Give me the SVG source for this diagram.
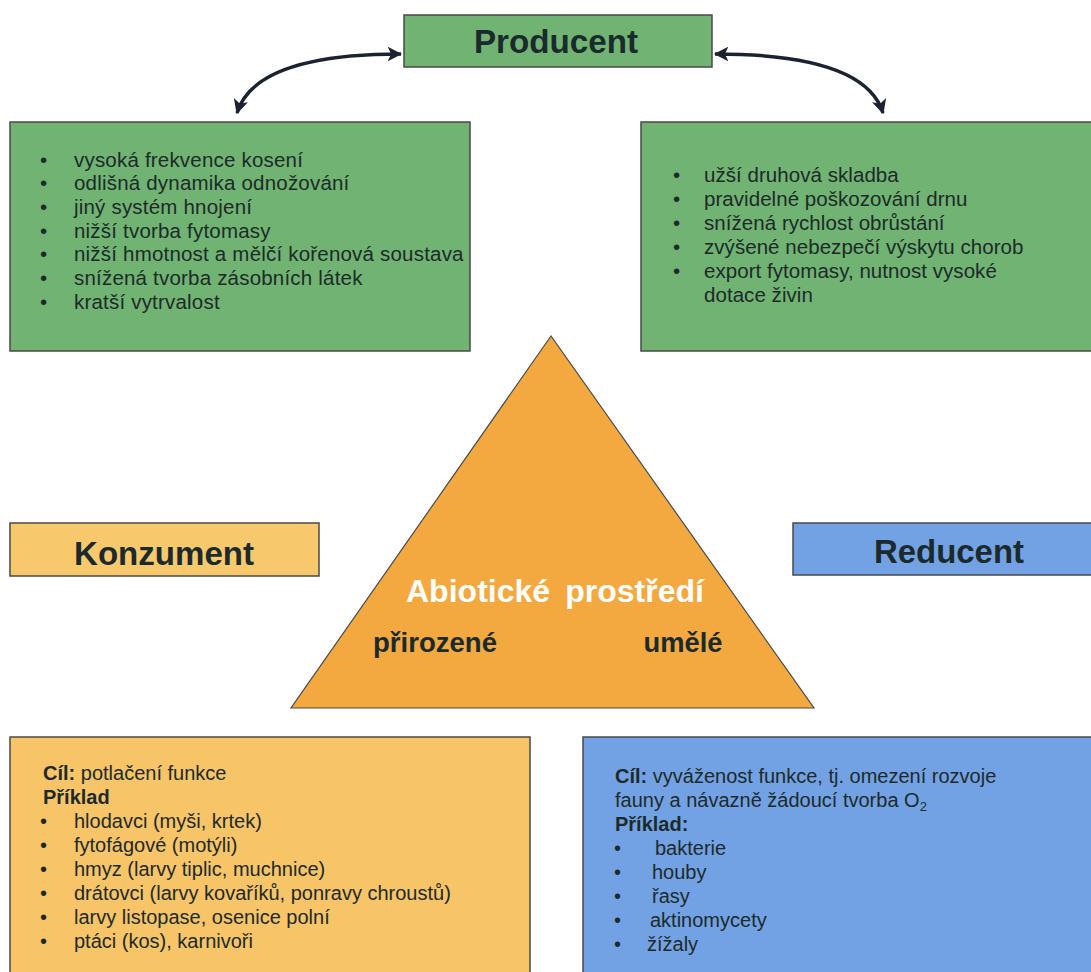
<svg xmlns="http://www.w3.org/2000/svg" width="1091" height="972" viewBox="0 0 1091 972">
<style>
.box{stroke:#4a4a4a;stroke-width:1.5}
.green{fill:#70b372}
.yellow{fill:#f8c86c}
.blue{fill:#72a2e3}
.title{font-family:"Liberation Sans",Arial,sans-serif;font-weight:bold;font-size:33px;fill:#1b2a2c;text-anchor:middle}
.body{font-family:"Liberation Sans",Arial,sans-serif;font-size:20.5px;letter-spacing:0.2px;fill:#1e2a2a}
.body2{font-family:"Liberation Sans",Arial,sans-serif;font-size:20px;fill:#1e2a2a}
.b{font-weight:bold}
.conn{fill:none;stroke:#1d2230;stroke-width:3.5}
</style>
<defs>
<marker id="ah" viewBox="0 0 12 12" refX="11" refY="6" markerWidth="4.2" markerHeight="4.2" orient="auto-start-reverse" markerUnits="strokeWidth">
<path d="M0,0 L12,6 L0,12 L3,6 Z" fill="#1d2230"/>
</marker>
</defs>
<rect width="1091" height="972" fill="#ffffff"/>

<g id="connectors">
<path class="conn" d="M401,54 Q255,54 237,113" marker-start="url(#ah)" marker-end="url(#ah)"/>
<path class="conn" d="M715,54 Q865,54 883,113" marker-start="url(#ah)" marker-end="url(#ah)"/>
</g>

<g id="producent">
<rect class="box green" x="404" y="15" width="308" height="52"/>
<text class="title" x="556" y="53" textLength="164" lengthAdjust="spacingAndGlyphs">Producent</text>
</g>

<g id="producent-left">
<rect class="box green" x="10" y="122" width="460" height="229"/>
<g class="body">
<text x="40" y="166.5">•</text><text x="74" y="166.5">vysoká frekvence kosení</text>
<text x="40" y="190.2">•</text><text x="74" y="190.2">odlišná dynamika odnožování</text>
<text x="40" y="213.9">•</text><text x="74" y="213.9">jiný systém hnojení</text>
<text x="40" y="237.6">•</text><text x="74" y="237.6">nižší tvorba fytomasy</text>
<text x="40" y="261.3">•</text><text x="74" y="261.3">nižší hmotnost a mělčí kořenová soustava</text>
<text x="40" y="285">•</text><text x="74" y="285">snížená tvorba zásobních látek</text>
<text x="40" y="308.7">•</text><text x="74" y="308.7">kratší vytrvalost</text>
</g>
</g>

<g id="producent-right">
<rect class="box green" x="641" y="122" width="460" height="229"/>
<g class="body" style="letter-spacing:0.05px">
<text x="673" y="182">•</text><text x="704" y="182">užší druhová skladba</text>
<text x="673" y="206">•</text><text x="704" y="206">pravidelné poškozování drnu</text>
<text x="673" y="230">•</text><text x="704" y="230">snížená rychlost obrůstání</text>
<text x="673" y="254">•</text><text x="704" y="254">zvýšené nebezpečí výskytu chorob</text>
<text x="673" y="278">•</text><text x="704" y="278">export fytomasy, nutnost vysoké</text>
<text x="704" y="302">dotace živin</text>
</g>
</g>

<g id="abioticke">
<polygon points="551,336 291,708 814,708" fill="#f3a93f" stroke="#4a4a4a" stroke-width="1.2"/>
<text class="title" x="555" y="602" style="fill:#ffffff;font-size:31px;word-spacing:6px" textLength="298" lengthAdjust="spacingAndGlyphs">Abiotické prostředí</text>
<text class="title" x="435" y="652" style="font-size:28px" textLength="124" lengthAdjust="spacingAndGlyphs">přirozené</text>
<text class="title" x="683" y="652" style="font-size:28px" textLength="79" lengthAdjust="spacingAndGlyphs">umělé</text>
</g>

<g id="konzument">
<rect class="box yellow" x="10" y="523" width="309" height="53"/>
<text class="title" x="164" y="565" textLength="180" lengthAdjust="spacingAndGlyphs">Konzument</text>
</g>

<g id="reducent">
<rect class="box blue" x="793" y="523" width="310" height="52"/>
<text class="title" x="949" y="563" textLength="150" lengthAdjust="spacingAndGlyphs">Reducent</text>
</g>

<g id="konzument-detail">
<rect class="box" x="10" y="737" width="520" height="245" fill="#f7c468"/>
<g class="body2">
<text x="43" y="780"><tspan class="b">Cíl:</tspan> potlačení funkce</text>
<text x="43" y="804" class="b">Příklad</text>
<text x="40" y="828">•</text><text x="74" y="828">hlodavci (myši, krtek)</text>
<text x="40" y="852">•</text><text x="74" y="852">fytofágové (motýli)</text>
<text x="40" y="876">•</text><text x="74" y="876">hmyz (larvy tiplic, muchnice)</text>
<text x="40" y="900">•</text><text x="74" y="900">drátovci (larvy kovaříků, ponravy chroustů)</text>
<text x="40" y="924">•</text><text x="74" y="924">larvy listopase, osenice polní</text>
<text x="40" y="948">•</text><text x="74" y="948">ptáci (kos), karnivoři</text>
</g>
</g>

<g id="reducent-detail">
<rect class="box blue" x="583" y="737" width="520" height="245"/>
<g class="body2">
<text x="615" y="783"><tspan class="b">Cíl:</tspan> vyváženost funkce, tj. omezení rozvoje</text>
<text x="615" y="807">fauny a návazně žádoucí tvorba O<tspan font-size="13" dy="4">2</tspan></text>
<text x="615" y="831" class="b">Příklad:</text>
<text x="614" y="855">•</text><text x="655" y="855">bakterie</text>
<text x="614" y="879">•</text><text x="652" y="879">houby</text>
<text x="614" y="903">•</text><text x="652" y="903">řasy</text>
<text x="614" y="927">•</text><text x="650" y="927">aktinomycety</text>
<text x="614" y="951">•</text><text x="647" y="951">žížaly</text>
</g>
</g>
</svg>
